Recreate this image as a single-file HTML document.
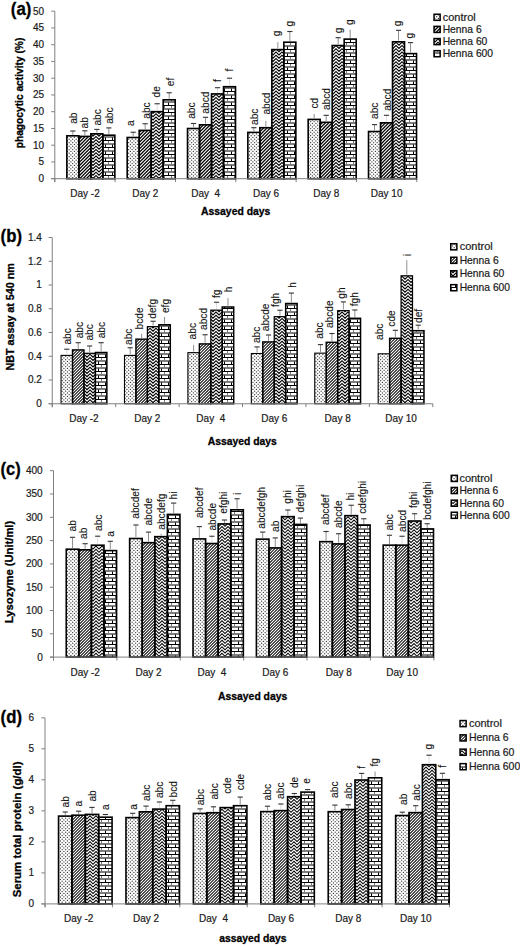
<!DOCTYPE html>
<html><head><meta charset="utf-8"><title>Henna immune assays</title>
<style>html,body{margin:0;padding:0;background:#fff;}svg{display:block;}text{font-family:"Liberation Sans", sans-serif;}.lb{fill:#111;stroke:#111;stroke-width:0.1px;}.tt{fill:#000;stroke:#000;stroke-width:0.3px;}.tk{fill:#1a1a1a;stroke:#1a1a1a;stroke-width:0.2px;}</style></head><body>
<svg width="520" height="947" viewBox="0 0 520 947">
<rect width="520" height="947" fill="#fff"/>
<defs>
<pattern id="pc" patternUnits="userSpaceOnUse" width="7" height="7"><rect width="7" height="7" fill="#fff"/><g fill="#333"><circle cx="0.90" cy="0.90" r="0.65"/><circle cx="4.40" cy="0.90" r="0.65"/><circle cx="2.65" cy="2.65" r="0.65"/><circle cx="6.15" cy="2.65" r="0.65"/><circle cx="0.90" cy="4.40" r="0.65"/><circle cx="4.40" cy="4.40" r="0.65"/><circle cx="2.65" cy="6.15" r="0.65"/><circle cx="6.15" cy="6.15" r="0.65"/></g></pattern>
<pattern id="p6a" patternUnits="userSpaceOnUse" width="10" height="10"><rect width="10" height="10" fill="#000"/><path d="M1.000,-1.000 L-1.000,1.000 M4.333,-1.000 L-1.000,4.333 M7.667,-1.000 L-1.000,7.667 M11.000,-1.000 L-1.000,11.000 M14.333,-1.000 L-1.000,14.333 M17.667,-1.000 L-1.000,17.667 M21.000,-1.000 L-1.000,21.000 " stroke="#fff" stroke-width="1.1" fill="none"/></pattern>
<pattern id="p6b" patternUnits="userSpaceOnUse" width="9" height="9"><rect width="9" height="9" fill="#000"/><path d="M1.000,-1.000 L-1.000,1.000 M4.000,-1.000 L-1.000,4.000 M7.000,-1.000 L-1.000,7.000 M10.000,-1.000 L-1.000,10.000 M13.000,-1.000 L-1.000,13.000 M16.000,-1.000 L-1.000,16.000 M19.000,-1.000 L-1.000,19.000 " stroke="#fff" stroke-width="1.2" fill="none"/></pattern>
<pattern id="p60a" patternUnits="userSpaceOnUse" width="6" height="13"><rect width="6" height="13" fill="#fff"/><path d="M-3,-3.50 L0,-6.50 L3,-3.50 L6,-6.50 L9,-3.50 M-3,-0.25 L0,-3.25 L3,-0.25 L6,-3.25 L9,-0.25 M-3,3.00 L0,0.00 L3,3.00 L6,0.00 L9,3.00 M-3,6.25 L0,3.25 L3,6.25 L6,3.25 L9,6.25 M-3,9.50 L0,6.50 L3,9.50 L6,6.50 L9,9.50 M-3,12.75 L0,9.75 L3,12.75 L6,9.75 L9,12.75 M-3,16.00 L0,13.00 L3,16.00 L6,13.00 L9,16.00 M-3,19.25 L0,16.25 L3,19.25 L6,16.25 L9,19.25 " stroke="#000" stroke-width="1.1" fill="none"/></pattern>
<pattern id="p60b" patternUnits="userSpaceOnUse" width="6" height="13"><rect width="6" height="13" fill="#fff"/><path d="M-3,-3.50 L0,-6.50 L3,-3.50 L6,-6.50 L9,-3.50 M-3,-0.25 L0,-3.25 L3,-0.25 L6,-3.25 L9,-0.25 M-3,3.00 L0,0.00 L3,3.00 L6,0.00 L9,3.00 M-3,6.25 L0,3.25 L3,6.25 L6,3.25 L9,6.25 M-3,9.50 L0,6.50 L3,9.50 L6,6.50 L9,9.50 M-3,12.75 L0,9.75 L3,12.75 L6,9.75 L9,12.75 M-3,16.00 L0,13.00 L3,16.00 L6,13.00 L9,16.00 M-3,19.25 L0,16.25 L3,19.25 L6,16.25 L9,19.25 " stroke="#000" stroke-width="1.15" fill="none"/></pattern>
<pattern id="p60c" patternUnits="userSpaceOnUse" width="6" height="13"><rect width="6" height="13" fill="#fff"/><path d="M-3,-3.50 L0,-6.50 L3,-3.50 L6,-6.50 L9,-3.50 M-3,-0.25 L0,-3.25 L3,-0.25 L6,-3.25 L9,-0.25 M-3,3.00 L0,0.00 L3,3.00 L6,0.00 L9,3.00 M-3,6.25 L0,3.25 L3,6.25 L6,3.25 L9,6.25 M-3,9.50 L0,6.50 L3,9.50 L6,6.50 L9,9.50 M-3,12.75 L0,9.75 L3,12.75 L6,9.75 L9,12.75 M-3,16.00 L0,13.00 L3,16.00 L6,13.00 L9,16.00 M-3,19.25 L0,16.25 L3,19.25 L6,16.25 L9,19.25 " stroke="#000" stroke-width="1.05" fill="none"/></pattern>
<pattern id="p600" patternUnits="userSpaceOnUse" width="7" height="7"><rect width="7" height="7" fill="#fff"/><rect x="0" y="0" width="7" height="1" fill="#000"/><rect x="0" y="3.5" width="7" height="1" fill="#000"/><rect x="3" y="1" width="1" height="2.5" fill="#777"/><rect x="0" y="4.5" width="1" height="2.5" fill="#000"/></pattern>
<filter id="soft" x="-5%" y="-5%" width="110%" height="110%"><feGaussianBlur stdDeviation="0.8"/></filter>
</defs>
<text x="10.8" y="15" font-size="17.5" font-weight="bold" class="tt" textLength="20.6" lengthAdjust="spacingAndGlyphs">(a)</text>
<line x1="51.2" y1="178.7" x2="54.8" y2="178.7" stroke="#808080" stroke-width="1"/>
<text x="44" y="182.1" font-size="10" class="tk" text-anchor="end">0</text>
<line x1="51.2" y1="161.95" x2="54.8" y2="161.95" stroke="#808080" stroke-width="1"/>
<text x="44" y="165.35" font-size="10" class="tk" text-anchor="end">5</text>
<line x1="51.2" y1="145.2" x2="54.8" y2="145.2" stroke="#808080" stroke-width="1"/>
<text x="44" y="148.6" font-size="10" class="tk" text-anchor="end">10</text>
<line x1="51.2" y1="128.45" x2="54.8" y2="128.45" stroke="#808080" stroke-width="1"/>
<text x="44" y="131.85" font-size="10" class="tk" text-anchor="end">15</text>
<line x1="51.2" y1="111.7" x2="54.8" y2="111.7" stroke="#808080" stroke-width="1"/>
<text x="44" y="115.1" font-size="10" class="tk" text-anchor="end">20</text>
<line x1="51.2" y1="94.95" x2="54.8" y2="94.95" stroke="#808080" stroke-width="1"/>
<text x="44" y="98.35" font-size="10" class="tk" text-anchor="end">25</text>
<line x1="51.2" y1="78.2" x2="54.8" y2="78.2" stroke="#808080" stroke-width="1"/>
<text x="44" y="81.6" font-size="10" class="tk" text-anchor="end">30</text>
<line x1="51.2" y1="61.45" x2="54.8" y2="61.45" stroke="#808080" stroke-width="1"/>
<text x="44" y="64.85" font-size="10" class="tk" text-anchor="end">35</text>
<line x1="51.2" y1="44.7" x2="54.8" y2="44.7" stroke="#808080" stroke-width="1"/>
<text x="44" y="48.1" font-size="10" class="tk" text-anchor="end">40</text>
<line x1="51.2" y1="27.95" x2="54.8" y2="27.95" stroke="#808080" stroke-width="1"/>
<text x="44" y="31.35" font-size="10" class="tk" text-anchor="end">45</text>
<line x1="51.2" y1="11.2" x2="54.8" y2="11.2" stroke="#808080" stroke-width="1"/>
<text x="44" y="14.6" font-size="10" class="tk" text-anchor="end">50</text>
<line x1="54.8" y1="178.7" x2="54.8" y2="182.1" stroke="#808080" stroke-width="1"/>
<line x1="115.13" y1="178.7" x2="115.13" y2="182.1" stroke="#808080" stroke-width="1"/>
<line x1="175.47" y1="178.7" x2="175.47" y2="182.1" stroke="#808080" stroke-width="1"/>
<line x1="235.8" y1="178.7" x2="235.8" y2="182.1" stroke="#808080" stroke-width="1"/>
<line x1="296.13" y1="178.7" x2="296.13" y2="182.1" stroke="#808080" stroke-width="1"/>
<line x1="356.47" y1="178.7" x2="356.47" y2="182.1" stroke="#808080" stroke-width="1"/>
<line x1="416.8" y1="178.7" x2="416.8" y2="182.1" stroke="#808080" stroke-width="1"/>
<g>
<rect x="66.85" y="135.8" width="12" height="42.9" fill="url(#pc)"/>
<rect x="78.85" y="136.4" width="12" height="42.3" fill="url(#p6a)"/>
<rect x="90.85" y="133.8" width="12" height="44.9" fill="url(#p60a)"/>
<rect x="102.85" y="135.2" width="12" height="43.5" fill="url(#p600)"/>
</g>
<rect x="66.85" y="135.8" width="12" height="42.9" fill="none" stroke="#000" stroke-width="1.6"/>
<rect x="78.85" y="136.4" width="12" height="42.3" fill="none" stroke="#000" stroke-width="1.6"/>
<rect x="90.85" y="133.8" width="12" height="44.9" fill="none" stroke="#000" stroke-width="1.6"/>
<rect x="102.85" y="135.2" width="12" height="43.5" fill="none" stroke="#000" stroke-width="1.6"/>
<line x1="72.85" y1="134.7" x2="72.85" y2="131" stroke="#8f8f8f" stroke-width="1"/>
<line x1="70.25" y1="131" x2="75.45" y2="131" stroke="#333" stroke-width="1.1"/>
<text transform="translate(77.22,123.8) rotate(-90)" font-size="10.2" class="lb">ab</text>
<line x1="84.85" y1="135.3" x2="84.85" y2="130.8" stroke="#8f8f8f" stroke-width="1"/>
<line x1="82.25" y1="130.8" x2="87.45" y2="130.8" stroke="#333" stroke-width="1.1"/>
<text transform="translate(88.42,128.5) rotate(-90)" font-size="10.2" class="lb">ab</text>
<line x1="96.85" y1="132.7" x2="96.85" y2="129.4" stroke="#8f8f8f" stroke-width="1"/>
<line x1="94.25" y1="129.4" x2="99.45" y2="129.4" stroke="#333" stroke-width="1.1"/>
<text transform="translate(101.12,125.6) rotate(-90)" font-size="10.2" class="lb">abc</text>
<line x1="108.85" y1="134.1" x2="108.85" y2="127.9" stroke="#8f8f8f" stroke-width="1"/>
<line x1="106.25" y1="127.9" x2="111.45" y2="127.9" stroke="#333" stroke-width="1.1"/>
<text transform="translate(113.22,123.8) rotate(-90)" font-size="10.2" class="lb">abc</text>
<g>
<rect x="127.18" y="137.5" width="12" height="41.2" fill="url(#pc)"/>
<rect x="139.18" y="130.4" width="12" height="48.3" fill="url(#p6a)"/>
<rect x="151.18" y="111.65" width="12" height="67.05" fill="url(#p60a)"/>
<rect x="163.18" y="99.8" width="12" height="78.9" fill="url(#p600)"/>
</g>
<rect x="127.18" y="137.5" width="12" height="41.2" fill="none" stroke="#000" stroke-width="1.6"/>
<rect x="139.18" y="130.4" width="12" height="48.3" fill="none" stroke="#000" stroke-width="1.6"/>
<rect x="151.18" y="111.65" width="12" height="67.05" fill="none" stroke="#000" stroke-width="1.6"/>
<rect x="163.18" y="99.8" width="12" height="78.9" fill="none" stroke="#000" stroke-width="1.6"/>
<line x1="133.18" y1="136.4" x2="133.18" y2="132.25" stroke="#8f8f8f" stroke-width="1"/>
<line x1="130.58" y1="132.25" x2="135.78" y2="132.25" stroke="#333" stroke-width="1.1"/>
<text transform="translate(133.95,126) rotate(-90)" font-size="10.2" class="lb">a</text>
<line x1="145.18" y1="129.3" x2="145.18" y2="123.75" stroke="#8f8f8f" stroke-width="1"/>
<line x1="142.58" y1="123.75" x2="147.78" y2="123.75" stroke="#333" stroke-width="1.1"/>
<text transform="translate(149.62,118.75) rotate(-90)" font-size="10.2" class="lb">abc</text>
<line x1="157.18" y1="110.55" x2="157.18" y2="103.75" stroke="#dcdcdc" stroke-width="1"/>
<line x1="154.58" y1="103.75" x2="159.78" y2="103.75" stroke="#333" stroke-width="1.1"/>
<text transform="translate(159.87,97.5) rotate(-90)" font-size="10.2" class="lb">de</text>
<line x1="169.18" y1="98.7" x2="169.18" y2="92.75" stroke="#8f8f8f" stroke-width="1"/>
<line x1="166.58" y1="92.75" x2="171.78" y2="92.75" stroke="#333" stroke-width="1.1"/>
<text transform="translate(173.62,86.25) rotate(-90)" font-size="10.2" class="lb">ef</text>
<g>
<rect x="187.52" y="128.5" width="12" height="50.2" fill="url(#pc)"/>
<rect x="199.52" y="124.8" width="12" height="53.9" fill="url(#p6a)"/>
<rect x="211.52" y="93.9" width="12" height="84.8" fill="url(#p60a)"/>
<rect x="223.52" y="86.7" width="12" height="92" fill="url(#p600)"/>
</g>
<rect x="187.52" y="128.5" width="12" height="50.2" fill="none" stroke="#000" stroke-width="1.6"/>
<rect x="199.52" y="124.8" width="12" height="53.9" fill="none" stroke="#000" stroke-width="1.6"/>
<rect x="211.52" y="93.9" width="12" height="84.8" fill="none" stroke="#000" stroke-width="1.6"/>
<rect x="223.52" y="86.7" width="12" height="92" fill="none" stroke="#000" stroke-width="1.6"/>
<line x1="193.52" y1="127.4" x2="193.52" y2="123.5" stroke="#8f8f8f" stroke-width="1"/>
<line x1="190.92" y1="123.5" x2="196.12" y2="123.5" stroke="#333" stroke-width="1.1"/>
<text transform="translate(195.12,118.8) rotate(-90)" font-size="10.2" class="lb">abc</text>
<line x1="205.52" y1="123.7" x2="205.52" y2="117.3" stroke="#8f8f8f" stroke-width="1"/>
<line x1="202.92" y1="117.3" x2="208.12" y2="117.3" stroke="#333" stroke-width="1.1"/>
<text transform="translate(208.82,113.7) rotate(-90)" font-size="10.2" class="lb">abcd</text>
<line x1="217.52" y1="92.8" x2="217.52" y2="87.7" stroke="#dcdcdc" stroke-width="1"/>
<line x1="214.92" y1="87.7" x2="220.12" y2="87.7" stroke="#333" stroke-width="1.1"/>
<text transform="translate(221.17,81.9) rotate(-90)" font-size="10.2" class="lb">f</text>
<line x1="229.52" y1="85.6" x2="229.52" y2="78.2" stroke="#dcdcdc" stroke-width="1"/>
<line x1="226.92" y1="78.2" x2="232.12" y2="78.2" stroke="#333" stroke-width="1.1"/>
<text transform="translate(233.17,71.5) rotate(-90)" font-size="10.2" class="lb">f</text>
<g>
<rect x="247.85" y="132.4" width="12" height="46.3" fill="url(#pc)"/>
<rect x="259.85" y="127.7" width="12" height="51" fill="url(#p6a)"/>
<rect x="271.85" y="49.6" width="12" height="129.1" fill="url(#p60a)"/>
<rect x="283.85" y="42.2" width="12" height="136.5" fill="url(#p600)"/>
</g>
<rect x="247.85" y="132.4" width="12" height="46.3" fill="none" stroke="#000" stroke-width="1.6"/>
<rect x="259.85" y="127.7" width="12" height="51" fill="none" stroke="#000" stroke-width="1.6"/>
<rect x="271.85" y="49.6" width="12" height="129.1" fill="none" stroke="#000" stroke-width="1.6"/>
<rect x="283.85" y="42.2" width="12" height="136.5" fill="none" stroke="#000" stroke-width="1.6"/>
<line x1="253.85" y1="131.3" x2="253.85" y2="127.7" stroke="#8f8f8f" stroke-width="1"/>
<line x1="251.25" y1="127.7" x2="256.45" y2="127.7" stroke="#333" stroke-width="1.1"/>
<text transform="translate(257.82,125) rotate(-90)" font-size="10.2" class="lb">abc</text>
<line x1="265.85" y1="126.6" x2="265.85" y2="120.8" stroke="#8f8f8f" stroke-width="1"/>
<text transform="translate(269.82,114.6) rotate(-90)" font-size="10.2" class="lb">abcd</text>
<line x1="277.85" y1="48.5" x2="277.85" y2="42.1" stroke="#8f8f8f" stroke-width="1"/>
<text transform="translate(280.38,36.2) rotate(-90)" font-size="10.2" class="lb">g</text>
<line x1="289.85" y1="41.1" x2="289.85" y2="31.5" stroke="#8f8f8f" stroke-width="1"/>
<line x1="287.25" y1="31.5" x2="292.45" y2="31.5" stroke="#333" stroke-width="1.1"/>
<text transform="translate(293.38,26.6) rotate(-90)" font-size="10.2" class="lb">g</text>
<g>
<rect x="308.18" y="119.4" width="12" height="59.3" fill="url(#pc)"/>
<rect x="320.18" y="122.3" width="12" height="56.4" fill="url(#p6a)"/>
<rect x="332.18" y="45.5" width="12" height="133.2" fill="url(#p60a)"/>
<rect x="344.18" y="39.1" width="12" height="139.6" fill="url(#p600)"/>
</g>
<rect x="308.18" y="119.4" width="12" height="59.3" fill="none" stroke="#000" stroke-width="1.6"/>
<rect x="320.18" y="122.3" width="12" height="56.4" fill="none" stroke="#000" stroke-width="1.6"/>
<rect x="332.18" y="45.5" width="12" height="133.2" fill="none" stroke="#000" stroke-width="1.6"/>
<rect x="344.18" y="39.1" width="12" height="139.6" fill="none" stroke="#000" stroke-width="1.6"/>
<line x1="314.18" y1="118.3" x2="314.18" y2="113.8" stroke="#8f8f8f" stroke-width="1"/>
<text transform="translate(318.42,108.6) rotate(-90)" font-size="10.2" class="lb">cd</text>
<line x1="326.18" y1="121.2" x2="326.18" y2="115.3" stroke="#8f8f8f" stroke-width="1"/>
<line x1="323.58" y1="115.3" x2="328.78" y2="115.3" stroke="#333" stroke-width="1.1"/>
<text transform="translate(329.92,110.1) rotate(-90)" font-size="10.2" class="lb">abcd</text>
<line x1="338.18" y1="44.4" x2="338.18" y2="37.7" stroke="#8f8f8f" stroke-width="1"/>
<line x1="335.58" y1="37.7" x2="340.78" y2="37.7" stroke="#333" stroke-width="1.1"/>
<text transform="translate(341.58,33.2) rotate(-90)" font-size="10.2" class="lb">g</text>
<line x1="350.18" y1="38" x2="350.18" y2="29.6" stroke="#8f8f8f" stroke-width="1"/>
<text transform="translate(352.68,25.1) rotate(-90)" font-size="10.2" class="lb">g</text>
<g>
<rect x="368.52" y="131.5" width="12" height="47.2" fill="url(#pc)"/>
<rect x="380.52" y="122.8" width="12" height="55.9" fill="url(#p6a)"/>
<rect x="392.52" y="41.8" width="12" height="136.9" fill="url(#p60a)"/>
<rect x="404.52" y="53.6" width="12" height="125.1" fill="url(#p600)"/>
</g>
<rect x="368.52" y="131.5" width="12" height="47.2" fill="none" stroke="#000" stroke-width="1.6"/>
<rect x="380.52" y="122.8" width="12" height="55.9" fill="none" stroke="#000" stroke-width="1.6"/>
<rect x="392.52" y="41.8" width="12" height="136.9" fill="none" stroke="#000" stroke-width="1.6"/>
<rect x="404.52" y="53.6" width="12" height="125.1" fill="none" stroke="#000" stroke-width="1.6"/>
<line x1="374.52" y1="130.4" x2="374.52" y2="124.6" stroke="#8f8f8f" stroke-width="1"/>
<line x1="371.92" y1="124.6" x2="377.12" y2="124.6" stroke="#333" stroke-width="1.1"/>
<text transform="translate(377.62,119) rotate(-90)" font-size="10.2" class="lb">abc</text>
<line x1="386.52" y1="121.7" x2="386.52" y2="115.3" stroke="#dcdcdc" stroke-width="1"/>
<line x1="383.92" y1="115.3" x2="389.12" y2="115.3" stroke="#333" stroke-width="1.1"/>
<text transform="translate(390.92,110.8) rotate(-90)" font-size="10.2" class="lb">abcd</text>
<line x1="398.52" y1="40.7" x2="398.52" y2="30.3" stroke="#8f8f8f" stroke-width="1"/>
<line x1="395.92" y1="30.3" x2="401.12" y2="30.3" stroke="#333" stroke-width="1.1"/>
<text transform="translate(401.28,26.3) rotate(-90)" font-size="10.2" class="lb">g</text>
<line x1="410.52" y1="52.5" x2="410.52" y2="42.6" stroke="#8f8f8f" stroke-width="1"/>
<line x1="407.92" y1="42.6" x2="413.12" y2="42.6" stroke="#333" stroke-width="1.1"/>
<text transform="translate(413.38,38.4) rotate(-90)" font-size="10.2" class="lb">g</text>
<line x1="54.8" y1="11.2" x2="54.8" y2="182.1" stroke="#808080" stroke-width="1"/>
<line x1="51.2" y1="178.7" x2="416.8" y2="178.7" stroke="#808080" stroke-width="1"/>
<text x="84.97" y="196.7" font-size="10" class="tk" text-anchor="middle" xml:space="preserve">Day -2</text>
<text x="145.3" y="196.7" font-size="10" class="tk" text-anchor="middle" xml:space="preserve">Day 2</text>
<text x="205.63" y="196.7" font-size="10" class="tk" text-anchor="middle" xml:space="preserve">Day  4</text>
<text x="265.97" y="196.7" font-size="10" class="tk" text-anchor="middle" xml:space="preserve">Day 6</text>
<text x="326.3" y="196.7" font-size="10" class="tk" text-anchor="middle" xml:space="preserve">Day 8</text>
<text x="386.63" y="196.7" font-size="10" class="tk" text-anchor="middle" xml:space="preserve">Day 10</text>
<text x="201" y="214.6" font-size="11" font-weight="bold" class="tt" textLength="69.4" lengthAdjust="spacingAndGlyphs">Assayed days</text>
<text transform="translate(22.6,148.3) rotate(-90)" font-size="11.5" font-weight="bold" class="tt" textLength="110.6" lengthAdjust="spacingAndGlyphs">phagocytic activity (%)</text>
<rect x="434.05" y="14.25" width="6.1" height="6.1" fill="url(#pc)" stroke="#000" stroke-width="1.5"/>
<text x="442.7" y="20.8" font-size="10.3" class="tk" textLength="33" lengthAdjust="spacingAndGlyphs">control</text>
<rect x="434.05" y="26.35" width="6.1" height="6.1" fill="url(#p6a)" stroke="#000" stroke-width="1.5"/>
<text x="442.7" y="32.9" font-size="10.3" class="tk">Henna 6</text>
<rect x="434.05" y="38.55" width="6.1" height="6.1" fill="url(#p60a)" stroke="#000" stroke-width="1.5"/>
<text x="442.7" y="45.1" font-size="10.3" class="tk">Henna 60</text>
<rect x="434.05" y="50.65" width="6.1" height="6.1" fill="url(#p600)" stroke="#000" stroke-width="1.5"/>
<text x="442.7" y="57.2" font-size="10.3" class="tk">Henna 600</text>
<text x="0.6" y="242.3" font-size="17.5" font-weight="bold" class="tt" textLength="21.4" lengthAdjust="spacingAndGlyphs">(b)</text>
<line x1="48.65" y1="403.75" x2="52.25" y2="403.75" stroke="#808080" stroke-width="1"/>
<text x="41.9" y="407.15" font-size="10" class="tk" text-anchor="end">0</text>
<line x1="48.65" y1="380" x2="52.25" y2="380" stroke="#808080" stroke-width="1"/>
<text x="41.9" y="383.4" font-size="10" class="tk" text-anchor="end">0.2</text>
<line x1="48.65" y1="356.25" x2="52.25" y2="356.25" stroke="#808080" stroke-width="1"/>
<text x="41.9" y="359.65" font-size="10" class="tk" text-anchor="end">0.4</text>
<line x1="48.65" y1="332.5" x2="52.25" y2="332.5" stroke="#808080" stroke-width="1"/>
<text x="41.9" y="335.9" font-size="10" class="tk" text-anchor="end">0.6</text>
<line x1="48.65" y1="308.75" x2="52.25" y2="308.75" stroke="#808080" stroke-width="1"/>
<text x="41.9" y="312.15" font-size="10" class="tk" text-anchor="end">0.8</text>
<line x1="48.65" y1="285" x2="52.25" y2="285" stroke="#808080" stroke-width="1"/>
<text x="41.9" y="288.4" font-size="10" class="tk" text-anchor="end">1</text>
<line x1="48.65" y1="261.25" x2="52.25" y2="261.25" stroke="#808080" stroke-width="1"/>
<text x="41.9" y="264.65" font-size="10" class="tk" text-anchor="end">1.2</text>
<line x1="48.65" y1="237.5" x2="52.25" y2="237.5" stroke="#808080" stroke-width="1"/>
<text x="41.9" y="240.9" font-size="10" class="tk" text-anchor="end">1.4</text>
<line x1="52.25" y1="403.75" x2="52.25" y2="407.15" stroke="#808080" stroke-width="1"/>
<line x1="115.68" y1="403.75" x2="115.68" y2="407.15" stroke="#808080" stroke-width="1"/>
<line x1="179.1" y1="403.75" x2="179.1" y2="407.15" stroke="#808080" stroke-width="1"/>
<line x1="242.53" y1="403.75" x2="242.53" y2="407.15" stroke="#808080" stroke-width="1"/>
<line x1="305.95" y1="403.75" x2="305.95" y2="407.15" stroke="#808080" stroke-width="1"/>
<line x1="369.38" y1="403.75" x2="369.38" y2="407.15" stroke="#808080" stroke-width="1"/>
<line x1="432.8" y1="403.75" x2="432.8" y2="407.15" stroke="#808080" stroke-width="1"/>
<g>
<rect x="61.05" y="355.4" width="11.45" height="48.35" fill="url(#pc)"/>
<rect x="72.5" y="349.9" width="11.45" height="53.85" fill="url(#p6b)"/>
<rect x="83.95" y="353.3" width="11.45" height="50.45" fill="url(#p60b)"/>
<rect x="95.4" y="352.5" width="11.45" height="51.25" fill="url(#p600)"/>
</g>
<rect x="61.05" y="355.4" width="11.45" height="48.35" fill="none" stroke="#000" stroke-width="1.1"/>
<rect x="72.5" y="349.9" width="11.45" height="53.85" fill="none" stroke="#000" stroke-width="1.4"/>
<rect x="83.95" y="353.3" width="11.45" height="50.45" fill="none" stroke="#000" stroke-width="1.2"/>
<rect x="95.4" y="352.5" width="11.45" height="51.25" fill="none" stroke="#000" stroke-width="1.5"/>
<line x1="66.78" y1="354.3" x2="66.78" y2="349.2" stroke="#dcdcdc" stroke-width="1"/>
<line x1="64.18" y1="349.2" x2="69.38" y2="349.2" stroke="#333" stroke-width="1.1"/>
<text transform="translate(71.12,344.6) rotate(-90)" font-size="10.2" class="lb">abc</text>
<line x1="78.22" y1="348.8" x2="78.22" y2="342.7" stroke="#8f8f8f" stroke-width="1"/>
<line x1="75.62" y1="342.7" x2="80.82" y2="342.7" stroke="#333" stroke-width="1.1"/>
<text transform="translate(83.42,338.3) rotate(-90)" font-size="10.2" class="lb">abc</text>
<line x1="89.67" y1="352.2" x2="89.67" y2="346" stroke="#8f8f8f" stroke-width="1"/>
<line x1="87.08" y1="346" x2="92.27" y2="346" stroke="#333" stroke-width="1.1"/>
<text transform="translate(93.22,340.6) rotate(-90)" font-size="10.2" class="lb">abc</text>
<line x1="101.12" y1="351.4" x2="101.12" y2="342.7" stroke="#8f8f8f" stroke-width="1"/>
<line x1="98.53" y1="342.7" x2="103.72" y2="342.7" stroke="#333" stroke-width="1.1"/>
<text transform="translate(104.82,338.3) rotate(-90)" font-size="10.2" class="lb">abc</text>
<g>
<rect x="124.48" y="355.4" width="11.45" height="48.35" fill="url(#pc)"/>
<rect x="135.93" y="339.15" width="11.45" height="64.6" fill="url(#p6b)"/>
<rect x="147.38" y="326.65" width="11.45" height="77.1" fill="url(#p60b)"/>
<rect x="158.83" y="324.8" width="11.45" height="78.95" fill="url(#p600)"/>
</g>
<rect x="124.48" y="355.4" width="11.45" height="48.35" fill="none" stroke="#000" stroke-width="1.1"/>
<rect x="135.93" y="339.15" width="11.45" height="64.6" fill="none" stroke="#000" stroke-width="1.4"/>
<rect x="147.38" y="326.65" width="11.45" height="77.1" fill="none" stroke="#000" stroke-width="1.2"/>
<rect x="158.83" y="324.8" width="11.45" height="78.95" fill="none" stroke="#000" stroke-width="1.5"/>
<line x1="130.2" y1="354.3" x2="130.2" y2="347.75" stroke="#8f8f8f" stroke-width="1"/>
<line x1="127.6" y1="347.75" x2="132.8" y2="347.75" stroke="#333" stroke-width="1.1"/>
<text transform="translate(132.37,345) rotate(-90)" font-size="10.2" class="lb">abc</text>
<line x1="141.65" y1="338.05" x2="141.65" y2="333.75" stroke="#8f8f8f" stroke-width="1"/>
<text transform="translate(143.02,329.4) rotate(-90)" font-size="10.2" class="lb">bcde</text>
<line x1="153.1" y1="325.55" x2="153.1" y2="321.25" stroke="#8f8f8f" stroke-width="1"/>
<line x1="150.5" y1="321.25" x2="155.7" y2="321.25" stroke="#333" stroke-width="1.1"/>
<text transform="translate(155.7,318.75) rotate(-90)" font-size="10.2" class="lb">defg</text>
<line x1="164.55" y1="323.7" x2="164.55" y2="316.9" stroke="#8f8f8f" stroke-width="1"/>
<text transform="translate(168.85,313.1) rotate(-90)" font-size="10.2" class="lb">efg</text>
<g>
<rect x="187.9" y="352.65" width="11.45" height="51.1" fill="url(#pc)"/>
<rect x="199.35" y="343.9" width="11.45" height="59.85" fill="url(#p6b)"/>
<rect x="210.8" y="310.15" width="11.45" height="93.6" fill="url(#p60b)"/>
<rect x="222.25" y="307" width="11.45" height="96.75" fill="url(#p600)"/>
</g>
<rect x="187.9" y="352.65" width="11.45" height="51.1" fill="none" stroke="#000" stroke-width="1.1"/>
<rect x="199.35" y="343.9" width="11.45" height="59.85" fill="none" stroke="#000" stroke-width="1.4"/>
<rect x="210.8" y="310.15" width="11.45" height="93.6" fill="none" stroke="#000" stroke-width="1.2"/>
<rect x="222.25" y="307" width="11.45" height="96.75" fill="none" stroke="#000" stroke-width="1.5"/>
<line x1="193.62" y1="351.55" x2="193.62" y2="345" stroke="#8f8f8f" stroke-width="1"/>
<text transform="translate(196.12,339.4) rotate(-90)" font-size="10.2" class="lb">abc</text>
<line x1="205.07" y1="342.8" x2="205.07" y2="334.75" stroke="#8f8f8f" stroke-width="1"/>
<line x1="202.47" y1="334.75" x2="207.67" y2="334.75" stroke="#333" stroke-width="1.1"/>
<text transform="translate(207.37,330) rotate(-90)" font-size="10.2" class="lb">abcd</text>
<line x1="216.53" y1="309.05" x2="216.53" y2="302.25" stroke="#dcdcdc" stroke-width="1"/>
<line x1="213.93" y1="302.25" x2="219.12" y2="302.25" stroke="#333" stroke-width="1.1"/>
<text transform="translate(220.1,298.1) rotate(-90)" font-size="10.2" class="lb">fg</text>
<line x1="227.97" y1="305.9" x2="227.97" y2="298.1" stroke="#8f8f8f" stroke-width="1"/>
<text transform="translate(232.42,292.25) rotate(-90)" font-size="10.2" class="lb">h</text>
<g>
<rect x="251.32" y="353.5" width="11.45" height="50.25" fill="url(#pc)"/>
<rect x="262.77" y="341.9" width="11.45" height="61.85" fill="url(#p6b)"/>
<rect x="274.22" y="316.65" width="11.45" height="87.1" fill="url(#p60b)"/>
<rect x="285.68" y="303.5" width="11.45" height="100.25" fill="url(#p600)"/>
</g>
<rect x="251.32" y="353.5" width="11.45" height="50.25" fill="none" stroke="#000" stroke-width="1.1"/>
<rect x="262.77" y="341.9" width="11.45" height="61.85" fill="none" stroke="#000" stroke-width="1.4"/>
<rect x="274.22" y="316.65" width="11.45" height="87.1" fill="none" stroke="#000" stroke-width="1.2"/>
<rect x="285.68" y="303.5" width="11.45" height="100.25" fill="none" stroke="#000" stroke-width="1.5"/>
<line x1="257.05" y1="352.4" x2="257.05" y2="346.9" stroke="#8f8f8f" stroke-width="1"/>
<line x1="254.45" y1="346.9" x2="259.65" y2="346.9" stroke="#333" stroke-width="1.1"/>
<text transform="translate(259.87,343.1) rotate(-90)" font-size="10.2" class="lb">abc</text>
<line x1="268.5" y1="340.8" x2="268.5" y2="335" stroke="#8f8f8f" stroke-width="1"/>
<line x1="265.9" y1="335" x2="271.1" y2="335" stroke="#333" stroke-width="1.1"/>
<text transform="translate(269.22,331.25) rotate(-90)" font-size="10.2" class="lb">abcde</text>
<line x1="279.95" y1="315.55" x2="279.95" y2="310.25" stroke="#8f8f8f" stroke-width="1"/>
<line x1="277.35" y1="310.25" x2="282.55" y2="310.25" stroke="#333" stroke-width="1.1"/>
<text transform="translate(278.6,306.9) rotate(-90)" font-size="10.2" class="lb">fgh</text>
<line x1="291.4" y1="302.4" x2="291.4" y2="293.1" stroke="#8f8f8f" stroke-width="1"/>
<line x1="288.8" y1="293.1" x2="294" y2="293.1" stroke="#333" stroke-width="1.1"/>
<text transform="translate(296.17,287.75) rotate(-90)" font-size="10.2" class="lb">h</text>
<g>
<rect x="314.75" y="353.15" width="11.45" height="50.6" fill="url(#pc)"/>
<rect x="326.2" y="342.3" width="11.45" height="61.45" fill="url(#p6b)"/>
<rect x="337.65" y="310.65" width="11.45" height="93.1" fill="url(#p60b)"/>
<rect x="349.1" y="318.3" width="11.45" height="85.45" fill="url(#p600)"/>
</g>
<rect x="314.75" y="353.15" width="11.45" height="50.6" fill="none" stroke="#000" stroke-width="1.1"/>
<rect x="326.2" y="342.3" width="11.45" height="61.45" fill="none" stroke="#000" stroke-width="1.4"/>
<rect x="337.65" y="310.65" width="11.45" height="93.1" fill="none" stroke="#000" stroke-width="1.2"/>
<rect x="349.1" y="318.3" width="11.45" height="85.45" fill="none" stroke="#000" stroke-width="1.5"/>
<line x1="320.48" y1="352.05" x2="320.48" y2="344.6" stroke="#8f8f8f" stroke-width="1"/>
<line x1="317.88" y1="344.6" x2="323.08" y2="344.6" stroke="#333" stroke-width="1.1"/>
<text transform="translate(323.02,338.75) rotate(-90)" font-size="10.2" class="lb">abc</text>
<line x1="331.93" y1="341.2" x2="331.93" y2="333.5" stroke="#8f8f8f" stroke-width="1"/>
<line x1="329.33" y1="333.5" x2="334.53" y2="333.5" stroke="#333" stroke-width="1.1"/>
<text transform="translate(333.37,328.1) rotate(-90)" font-size="10.2" class="lb">abcde</text>
<line x1="343.38" y1="309.55" x2="343.38" y2="301.9" stroke="#8f8f8f" stroke-width="1"/>
<line x1="340.78" y1="301.9" x2="345.98" y2="301.9" stroke="#333" stroke-width="1.1"/>
<text transform="translate(344.5,298.75) rotate(-90)" font-size="10.2" class="lb">gh</text>
<line x1="354.83" y1="317.2" x2="354.83" y2="310" stroke="#8f8f8f" stroke-width="1"/>
<line x1="352.23" y1="310" x2="357.43" y2="310" stroke="#333" stroke-width="1.1"/>
<text transform="translate(358.2,306.25) rotate(-90)" font-size="10.2" class="lb">fgh</text>
<g>
<rect x="378.18" y="353.8" width="11.45" height="49.95" fill="url(#pc)"/>
<rect x="389.62" y="338.3" width="11.45" height="65.45" fill="url(#p6b)"/>
<rect x="401.07" y="275.8" width="11.45" height="127.95" fill="url(#p60b)"/>
<rect x="412.53" y="330.7" width="11.45" height="73.05" fill="url(#p600)"/>
</g>
<rect x="378.18" y="353.8" width="11.45" height="49.95" fill="none" stroke="#000" stroke-width="1.1"/>
<rect x="389.62" y="338.3" width="11.45" height="65.45" fill="none" stroke="#000" stroke-width="1.4"/>
<rect x="401.07" y="275.8" width="11.45" height="127.95" fill="none" stroke="#000" stroke-width="1.2"/>
<rect x="412.53" y="330.7" width="11.45" height="73.05" fill="none" stroke="#000" stroke-width="1.5"/>
<text transform="translate(383.12,340) rotate(-90)" font-size="10.2" class="lb">abc</text>
<line x1="395.35" y1="337.2" x2="395.35" y2="330.3" stroke="#8f8f8f" stroke-width="1"/>
<line x1="392.75" y1="330.3" x2="397.95" y2="330.3" stroke="#333" stroke-width="1.1"/>
<text transform="translate(395.12,326.7) rotate(-90)" font-size="10.2" class="lb">cde</text>
<line x1="406.8" y1="274.7" x2="406.8" y2="260.2" stroke="#8f8f8f" stroke-width="1"/>
<text transform="translate(410.67,256.3) rotate(-90)" font-size="10.2" class="lb">i</text>
<line x1="418.25" y1="329.6" x2="418.25" y2="325.2" stroke="#8f8f8f" stroke-width="1"/>
<line x1="415.65" y1="325.2" x2="420.85" y2="325.2" stroke="#333" stroke-width="1.1"/>
<text transform="translate(422.42,323) rotate(-90)" font-size="10.2" class="lb">def</text>
<line x1="52.25" y1="237.5" x2="52.25" y2="407.15" stroke="#808080" stroke-width="1"/>
<line x1="48.65" y1="403.75" x2="432.8" y2="403.75" stroke="#808080" stroke-width="1"/>
<text x="83.96" y="421.7" font-size="10" class="tk" text-anchor="middle" xml:space="preserve">Day -2</text>
<text x="147.39" y="421.7" font-size="10" class="tk" text-anchor="middle" xml:space="preserve">Day 2</text>
<text x="210.81" y="421.7" font-size="10" class="tk" text-anchor="middle" xml:space="preserve">Day  4</text>
<text x="274.24" y="421.7" font-size="10" class="tk" text-anchor="middle" xml:space="preserve">Day 6</text>
<text x="337.66" y="421.7" font-size="10" class="tk" text-anchor="middle" xml:space="preserve">Day 8</text>
<text x="401.09" y="421.7" font-size="10" class="tk" text-anchor="middle" xml:space="preserve">Day 10</text>
<text x="207.7" y="444.5" font-size="11" font-weight="bold" class="tt" textLength="69.2" lengthAdjust="spacingAndGlyphs">Assayed days</text>
<text transform="translate(14.1,370.4) rotate(-90)" font-size="11.5" font-weight="bold" class="tt" textLength="107.2" lengthAdjust="spacingAndGlyphs">NBT assay at 540 nm</text>
<rect x="450.75" y="243.75" width="6.1" height="6.1" fill="url(#pc)" stroke="#000" stroke-width="1.5"/>
<text x="459.7" y="250.3" font-size="10.3" class="tk" textLength="33" lengthAdjust="spacingAndGlyphs">control</text>
<rect x="450.75" y="257.25" width="6.1" height="6.1" fill="url(#p6b)" stroke="#000" stroke-width="1.5"/>
<text x="459.7" y="263.8" font-size="10.3" class="tk">Henna 6</text>
<rect x="450.75" y="270.75" width="6.1" height="6.1" fill="url(#p60b)" stroke="#000" stroke-width="1.5"/>
<text x="459.7" y="277.3" font-size="10.3" class="tk">Henna 60</text>
<rect x="450.75" y="284.65" width="6.1" height="6.1" fill="url(#p600)" stroke="#000" stroke-width="1.5"/>
<text x="459.7" y="291.2" font-size="10.3" class="tk">Henna 600</text>
<text x="0.6" y="475.4" font-size="17.5" font-weight="bold" class="tt" textLength="20.2" lengthAdjust="spacingAndGlyphs">(c)</text>
<line x1="49.9" y1="657.1" x2="53.5" y2="657.1" stroke="#808080" stroke-width="1"/>
<text x="42.7" y="660.5" font-size="10" class="tk" text-anchor="end">0</text>
<line x1="49.9" y1="633.8" x2="53.5" y2="633.8" stroke="#808080" stroke-width="1"/>
<text x="42.7" y="637.2" font-size="10" class="tk" text-anchor="end">50</text>
<line x1="49.9" y1="610.5" x2="53.5" y2="610.5" stroke="#808080" stroke-width="1"/>
<text x="42.7" y="613.9" font-size="10" class="tk" text-anchor="end">100</text>
<line x1="49.9" y1="587.2" x2="53.5" y2="587.2" stroke="#808080" stroke-width="1"/>
<text x="42.7" y="590.6" font-size="10" class="tk" text-anchor="end">150</text>
<line x1="49.9" y1="563.9" x2="53.5" y2="563.9" stroke="#808080" stroke-width="1"/>
<text x="42.7" y="567.3" font-size="10" class="tk" text-anchor="end">200</text>
<line x1="49.9" y1="540.6" x2="53.5" y2="540.6" stroke="#808080" stroke-width="1"/>
<text x="42.7" y="544" font-size="10" class="tk" text-anchor="end">250</text>
<line x1="49.9" y1="517.3" x2="53.5" y2="517.3" stroke="#808080" stroke-width="1"/>
<text x="42.7" y="520.7" font-size="10" class="tk" text-anchor="end">300</text>
<line x1="49.9" y1="494" x2="53.5" y2="494" stroke="#808080" stroke-width="1"/>
<text x="42.7" y="497.4" font-size="10" class="tk" text-anchor="end">350</text>
<line x1="49.9" y1="470.7" x2="53.5" y2="470.7" stroke="#808080" stroke-width="1"/>
<text x="42.7" y="474.1" font-size="10" class="tk" text-anchor="end">400</text>
<line x1="53.5" y1="657.1" x2="53.5" y2="660.5" stroke="#808080" stroke-width="1"/>
<line x1="116.88" y1="657.1" x2="116.88" y2="660.5" stroke="#808080" stroke-width="1"/>
<line x1="180.27" y1="657.1" x2="180.27" y2="660.5" stroke="#808080" stroke-width="1"/>
<line x1="243.65" y1="657.1" x2="243.65" y2="660.5" stroke="#808080" stroke-width="1"/>
<line x1="307.03" y1="657.1" x2="307.03" y2="660.5" stroke="#808080" stroke-width="1"/>
<line x1="370.42" y1="657.1" x2="370.42" y2="660.5" stroke="#808080" stroke-width="1"/>
<line x1="433.8" y1="657.1" x2="433.8" y2="660.5" stroke="#808080" stroke-width="1"/>
<g>
<rect x="66.25" y="549.2" width="12.58" height="107.9" fill="url(#pc)"/>
<rect x="78.83" y="549.8" width="12.58" height="107.3" fill="url(#p6b)"/>
<rect x="91.41" y="545.2" width="12.58" height="111.9" fill="url(#p60c)"/>
<rect x="103.99" y="550.6" width="12.58" height="106.5" fill="url(#p600)"/>
</g>
<rect x="66.25" y="549.2" width="12.58" height="107.9" fill="none" stroke="#000" stroke-width="1.6"/>
<rect x="78.83" y="549.8" width="12.58" height="107.3" fill="none" stroke="#000" stroke-width="1.6"/>
<rect x="91.41" y="545.2" width="12.58" height="111.9" fill="none" stroke="#000" stroke-width="1.6"/>
<rect x="103.99" y="550.6" width="12.58" height="106.5" fill="none" stroke="#000" stroke-width="1.6"/>
<line x1="72.54" y1="548.1" x2="72.54" y2="537.3" stroke="#8f8f8f" stroke-width="1"/>
<line x1="69.94" y1="537.3" x2="75.14" y2="537.3" stroke="#333" stroke-width="1.1"/>
<text transform="translate(76.32,531.5) rotate(-90)" font-size="10.2" class="lb">ab</text>
<line x1="85.12" y1="548.7" x2="85.12" y2="543.7" stroke="#8f8f8f" stroke-width="1"/>
<line x1="82.52" y1="543.7" x2="87.72" y2="543.7" stroke="#333" stroke-width="1.1"/>
<text transform="translate(87.32,539) rotate(-90)" font-size="10.2" class="lb">ab</text>
<line x1="97.7" y1="544.1" x2="97.7" y2="536.2" stroke="#dcdcdc" stroke-width="1"/>
<line x1="95.1" y1="536.2" x2="100.3" y2="536.2" stroke="#333" stroke-width="1.1"/>
<text transform="translate(101.72,531) rotate(-90)" font-size="10.2" class="lb">abc</text>
<line x1="110.28" y1="549.5" x2="110.28" y2="541.3" stroke="#8f8f8f" stroke-width="1"/>
<line x1="107.68" y1="541.3" x2="112.88" y2="541.3" stroke="#333" stroke-width="1.1"/>
<text transform="translate(114,536.7) rotate(-90)" font-size="10.2" class="lb">a</text>
<g>
<rect x="129.63" y="538.5" width="12.58" height="118.6" fill="url(#pc)"/>
<rect x="142.21" y="542.65" width="12.58" height="114.45" fill="url(#p6b)"/>
<rect x="154.79" y="536.65" width="12.58" height="120.45" fill="url(#p60c)"/>
<rect x="167.37" y="514.4" width="12.58" height="142.7" fill="url(#p600)"/>
</g>
<rect x="129.63" y="538.5" width="12.58" height="118.6" fill="none" stroke="#000" stroke-width="1.6"/>
<rect x="142.21" y="542.65" width="12.58" height="114.45" fill="none" stroke="#000" stroke-width="1.6"/>
<rect x="154.79" y="536.65" width="12.58" height="120.45" fill="none" stroke="#000" stroke-width="1.6"/>
<rect x="167.37" y="514.4" width="12.58" height="142.7" fill="none" stroke="#000" stroke-width="1.6"/>
<line x1="135.92" y1="537.4" x2="135.92" y2="525" stroke="#8f8f8f" stroke-width="1"/>
<line x1="133.32" y1="525" x2="138.52" y2="525" stroke="#333" stroke-width="1.1"/>
<text transform="translate(139.22,518.75) rotate(-90)" font-size="10.2" class="lb">abcdef</text>
<line x1="148.5" y1="541.55" x2="148.5" y2="532.1" stroke="#8f8f8f" stroke-width="1"/>
<line x1="145.9" y1="532.1" x2="151.1" y2="532.1" stroke="#333" stroke-width="1.1"/>
<text transform="translate(151.72,525.6) rotate(-90)" font-size="10.2" class="lb">abcde</text>
<line x1="161.08" y1="535.55" x2="161.08" y2="533.75" stroke="#8f8f8f" stroke-width="1"/>
<text transform="translate(164.5,529.75) rotate(-90)" font-size="10.2" class="lb">abcdefg</text>
<line x1="173.66" y1="513.3" x2="173.66" y2="503.1" stroke="#8f8f8f" stroke-width="1"/>
<line x1="171.06" y1="503.1" x2="176.26" y2="503.1" stroke="#333" stroke-width="1.1"/>
<text transform="translate(177.42,499.4) rotate(-90)" font-size="10.2" class="lb">hi</text>
<g>
<rect x="193.02" y="538.9" width="12.58" height="118.2" fill="url(#pc)"/>
<rect x="205.6" y="543.5" width="12.58" height="113.6" fill="url(#p6b)"/>
<rect x="218.18" y="523.9" width="12.58" height="133.2" fill="url(#p60c)"/>
<rect x="230.76" y="509.8" width="12.58" height="147.3" fill="url(#p600)"/>
</g>
<rect x="193.02" y="538.9" width="12.58" height="118.2" fill="none" stroke="#000" stroke-width="1.6"/>
<rect x="205.6" y="543.5" width="12.58" height="113.6" fill="none" stroke="#000" stroke-width="1.6"/>
<rect x="218.18" y="523.9" width="12.58" height="133.2" fill="none" stroke="#000" stroke-width="1.6"/>
<rect x="230.76" y="509.8" width="12.58" height="147.3" fill="none" stroke="#000" stroke-width="1.6"/>
<line x1="199.31" y1="537.8" x2="199.31" y2="526.6" stroke="#8f8f8f" stroke-width="1"/>
<line x1="196.71" y1="526.6" x2="201.91" y2="526.6" stroke="#333" stroke-width="1.1"/>
<text transform="translate(203.02,518.1) rotate(-90)" font-size="10.2" class="lb">abcdef</text>
<line x1="211.89" y1="542.4" x2="211.89" y2="536.25" stroke="#dcdcdc" stroke-width="1"/>
<line x1="209.29" y1="536.25" x2="214.49" y2="536.25" stroke="#333" stroke-width="1.1"/>
<text transform="translate(215.52,530.6) rotate(-90)" font-size="10.2" class="lb">abcde</text>
<line x1="224.47" y1="522.8" x2="224.47" y2="520" stroke="#8f8f8f" stroke-width="1"/>
<line x1="221.87" y1="520" x2="227.07" y2="520" stroke="#333" stroke-width="1.1"/>
<text transform="translate(227,513.75) rotate(-90)" font-size="10.2" class="lb">efghi</text>
<line x1="237.05" y1="508.7" x2="237.05" y2="498.75" stroke="#8f8f8f" stroke-width="1"/>
<line x1="234.45" y1="498.75" x2="239.65" y2="498.75" stroke="#333" stroke-width="1.1"/>
<text transform="translate(240.57,495) rotate(-90)" font-size="10.2" class="lb">i</text>
<g>
<rect x="256.4" y="539.15" width="12.58" height="117.95" fill="url(#pc)"/>
<rect x="268.98" y="547.9" width="12.58" height="109.2" fill="url(#p6b)"/>
<rect x="281.56" y="516.65" width="12.58" height="140.45" fill="url(#p60c)"/>
<rect x="294.14" y="524.4" width="12.58" height="132.7" fill="url(#p600)"/>
</g>
<rect x="256.4" y="539.15" width="12.58" height="117.95" fill="none" stroke="#000" stroke-width="1.6"/>
<rect x="268.98" y="547.9" width="12.58" height="109.2" fill="none" stroke="#000" stroke-width="1.6"/>
<rect x="281.56" y="516.65" width="12.58" height="140.45" fill="none" stroke="#000" stroke-width="1.6"/>
<rect x="294.14" y="524.4" width="12.58" height="132.7" fill="none" stroke="#000" stroke-width="1.6"/>
<line x1="262.69" y1="538.05" x2="262.69" y2="532.1" stroke="#8f8f8f" stroke-width="1"/>
<line x1="260.09" y1="532.1" x2="265.29" y2="532.1" stroke="#333" stroke-width="1.1"/>
<text transform="translate(265.1,528.75) rotate(-90)" font-size="10.2" class="lb">abcdefgh</text>
<line x1="275.27" y1="546.8" x2="275.27" y2="537.9" stroke="#8f8f8f" stroke-width="1"/>
<line x1="272.67" y1="537.9" x2="277.87" y2="537.9" stroke="#333" stroke-width="1.1"/>
<text transform="translate(279.22,531.9) rotate(-90)" font-size="10.2" class="lb">ab</text>
<line x1="287.85" y1="515.55" x2="287.85" y2="510" stroke="#8f8f8f" stroke-width="1"/>
<line x1="285.25" y1="510" x2="290.45" y2="510" stroke="#333" stroke-width="1.1"/>
<text transform="translate(291.35,503.75) rotate(-90)" font-size="10.2" class="lb">ghi</text>
<line x1="300.43" y1="523.3" x2="300.43" y2="518.1" stroke="#8f8f8f" stroke-width="1"/>
<line x1="297.83" y1="518.1" x2="303.03" y2="518.1" stroke="#333" stroke-width="1.1"/>
<text transform="translate(303.85,512.5) rotate(-90)" font-size="10.2" class="lb">defghi</text>
<g>
<rect x="319.78" y="541.65" width="12.58" height="115.45" fill="url(#pc)"/>
<rect x="332.36" y="543.9" width="12.58" height="113.2" fill="url(#p6b)"/>
<rect x="344.94" y="515.65" width="12.58" height="141.45" fill="url(#p60c)"/>
<rect x="357.52" y="525" width="12.58" height="132.1" fill="url(#p600)"/>
</g>
<rect x="319.78" y="541.65" width="12.58" height="115.45" fill="none" stroke="#000" stroke-width="1.6"/>
<rect x="332.36" y="543.9" width="12.58" height="113.2" fill="none" stroke="#000" stroke-width="1.6"/>
<rect x="344.94" y="515.65" width="12.58" height="141.45" fill="none" stroke="#000" stroke-width="1.6"/>
<rect x="357.52" y="525" width="12.58" height="132.1" fill="none" stroke="#000" stroke-width="1.6"/>
<line x1="326.07" y1="540.55" x2="326.07" y2="531.5" stroke="#8f8f8f" stroke-width="1"/>
<line x1="323.47" y1="531.5" x2="328.67" y2="531.5" stroke="#333" stroke-width="1.1"/>
<text transform="translate(328.62,525) rotate(-90)" font-size="10.2" class="lb">abcdef</text>
<line x1="338.65" y1="542.8" x2="338.65" y2="533.75" stroke="#8f8f8f" stroke-width="1"/>
<line x1="336.05" y1="533.75" x2="341.25" y2="533.75" stroke="#333" stroke-width="1.1"/>
<text transform="translate(342.37,528.1) rotate(-90)" font-size="10.2" class="lb">abcde</text>
<line x1="351.23" y1="514.55" x2="351.23" y2="505.25" stroke="#8f8f8f" stroke-width="1"/>
<line x1="348.63" y1="505.25" x2="353.83" y2="505.25" stroke="#333" stroke-width="1.1"/>
<text transform="translate(354.27,500.6) rotate(-90)" font-size="10.2" class="lb">hi</text>
<line x1="363.81" y1="523.9" x2="363.81" y2="518.75" stroke="#8f8f8f" stroke-width="1"/>
<line x1="361.21" y1="518.75" x2="366.41" y2="518.75" stroke="#333" stroke-width="1.1"/>
<text transform="translate(365.7,513.75) rotate(-90)" font-size="10.2" class="lb">cdefghi</text>
<g>
<rect x="383.17" y="545.15" width="12.58" height="111.95" fill="url(#pc)"/>
<rect x="395.75" y="545.15" width="12.58" height="111.95" fill="url(#p6b)"/>
<rect x="408.33" y="521" width="12.58" height="136.1" fill="url(#p60c)"/>
<rect x="420.91" y="528.9" width="12.58" height="128.2" fill="url(#p600)"/>
</g>
<rect x="383.17" y="545.15" width="12.58" height="111.95" fill="none" stroke="#000" stroke-width="1.6"/>
<rect x="395.75" y="545.15" width="12.58" height="111.95" fill="none" stroke="#000" stroke-width="1.6"/>
<rect x="408.33" y="521" width="12.58" height="136.1" fill="none" stroke="#000" stroke-width="1.6"/>
<rect x="420.91" y="528.9" width="12.58" height="128.2" fill="none" stroke="#000" stroke-width="1.6"/>
<line x1="389.46" y1="544.05" x2="389.46" y2="535.25" stroke="#8f8f8f" stroke-width="1"/>
<line x1="386.86" y1="535.25" x2="392.06" y2="535.25" stroke="#333" stroke-width="1.1"/>
<text transform="translate(393.02,530.6) rotate(-90)" font-size="10.2" class="lb">abc</text>
<line x1="402.04" y1="544.05" x2="402.04" y2="536.25" stroke="#dcdcdc" stroke-width="1"/>
<line x1="399.44" y1="536.25" x2="404.64" y2="536.25" stroke="#333" stroke-width="1.1"/>
<text transform="translate(405.52,531.9) rotate(-90)" font-size="10.2" class="lb">abcd</text>
<line x1="414.62" y1="519.9" x2="414.62" y2="513.75" stroke="#8f8f8f" stroke-width="1"/>
<line x1="412.02" y1="513.75" x2="417.22" y2="513.75" stroke="#333" stroke-width="1.1"/>
<text transform="translate(417,508.1) rotate(-90)" font-size="10.2" class="lb">fghi</text>
<line x1="427.2" y1="527.8" x2="427.2" y2="523.75" stroke="#8f8f8f" stroke-width="1"/>
<line x1="424.6" y1="523.75" x2="429.8" y2="523.75" stroke="#333" stroke-width="1.1"/>
<text transform="translate(430.7,520) rotate(-90)" font-size="10.2" class="lb">bcdefghi</text>
<line x1="53.5" y1="470.7" x2="53.5" y2="660.5" stroke="#808080" stroke-width="1"/>
<line x1="49.9" y1="657.1" x2="433.8" y2="657.1" stroke="#808080" stroke-width="1"/>
<text x="85.19" y="676.2" font-size="10" class="tk" text-anchor="middle" xml:space="preserve">Day -2</text>
<text x="148.57" y="676.2" font-size="10" class="tk" text-anchor="middle" xml:space="preserve">Day 2</text>
<text x="211.96" y="676.2" font-size="10" class="tk" text-anchor="middle" xml:space="preserve">Day  4</text>
<text x="275.34" y="676.2" font-size="10" class="tk" text-anchor="middle" xml:space="preserve">Day 6</text>
<text x="338.73" y="676.2" font-size="10" class="tk" text-anchor="middle" xml:space="preserve">Day 8</text>
<text x="402.11" y="676.2" font-size="10" class="tk" text-anchor="middle" xml:space="preserve">Day 10</text>
<text x="218" y="699.6" font-size="11" font-weight="bold" class="tt" textLength="69.3" lengthAdjust="spacingAndGlyphs">Assayed days</text>
<text transform="translate(12.9,623.1) rotate(-90)" font-size="11.2" font-weight="bold" class="tt" textLength="102.3" lengthAdjust="spacingAndGlyphs">Lysozyme (Unit/ml)</text>
<rect x="451.25" y="475.35" width="6.1" height="6.1" fill="url(#pc)" stroke="#000" stroke-width="1.5"/>
<text x="459.4" y="481.9" font-size="10.3" class="tk" textLength="33" lengthAdjust="spacingAndGlyphs">control</text>
<rect x="451.25" y="487.45" width="6.1" height="6.1" fill="url(#p6b)" stroke="#000" stroke-width="1.5"/>
<text x="459.4" y="494" font-size="10.3" class="tk">Henna 6</text>
<rect x="451.25" y="500.15" width="6.1" height="6.1" fill="url(#p60c)" stroke="#000" stroke-width="1.5"/>
<text x="459.4" y="506.7" font-size="10.3" class="tk">Henna 60</text>
<rect x="451.25" y="512.25" width="6.1" height="6.1" fill="url(#p600)" stroke="#000" stroke-width="1.5"/>
<text x="459.4" y="518.8" font-size="10.3" class="tk">Henna 600</text>
<text x="0.6" y="723.1" font-size="17.5" font-weight="bold" class="tt" textLength="21.4" lengthAdjust="spacingAndGlyphs">(d)</text>
<line x1="41.4" y1="903.9" x2="45" y2="903.9" stroke="#808080" stroke-width="1"/>
<text x="34" y="907.3" font-size="10" class="tk" text-anchor="end">0</text>
<line x1="41.4" y1="872.88" x2="45" y2="872.88" stroke="#808080" stroke-width="1"/>
<text x="34" y="876.28" font-size="10" class="tk" text-anchor="end">1</text>
<line x1="41.4" y1="841.87" x2="45" y2="841.87" stroke="#808080" stroke-width="1"/>
<text x="34" y="845.27" font-size="10" class="tk" text-anchor="end">2</text>
<line x1="41.4" y1="810.85" x2="45" y2="810.85" stroke="#808080" stroke-width="1"/>
<text x="34" y="814.25" font-size="10" class="tk" text-anchor="end">3</text>
<line x1="41.4" y1="779.83" x2="45" y2="779.83" stroke="#808080" stroke-width="1"/>
<text x="34" y="783.23" font-size="10" class="tk" text-anchor="end">4</text>
<line x1="41.4" y1="748.82" x2="45" y2="748.82" stroke="#808080" stroke-width="1"/>
<text x="34" y="752.22" font-size="10" class="tk" text-anchor="end">5</text>
<line x1="41.4" y1="717.8" x2="45" y2="717.8" stroke="#808080" stroke-width="1"/>
<text x="34" y="721.2" font-size="10" class="tk" text-anchor="end">6</text>
<line x1="45" y1="903.9" x2="45" y2="907.3" stroke="#808080" stroke-width="1"/>
<line x1="112.42" y1="903.9" x2="112.42" y2="907.3" stroke="#808080" stroke-width="1"/>
<line x1="179.83" y1="903.9" x2="179.83" y2="907.3" stroke="#808080" stroke-width="1"/>
<line x1="247.25" y1="903.9" x2="247.25" y2="907.3" stroke="#808080" stroke-width="1"/>
<line x1="314.67" y1="903.9" x2="314.67" y2="907.3" stroke="#808080" stroke-width="1"/>
<line x1="382.08" y1="903.9" x2="382.08" y2="907.3" stroke="#808080" stroke-width="1"/>
<line x1="449.5" y1="903.9" x2="449.5" y2="907.3" stroke="#808080" stroke-width="1"/>
<g>
<rect x="58.55" y="816.1" width="13.38" height="87.8" fill="url(#pc)"/>
<rect x="71.93" y="815.2" width="13.38" height="88.7" fill="url(#p6b)"/>
<rect x="85.31" y="814.4" width="13.38" height="89.5" fill="url(#p60c)"/>
<rect x="98.69" y="817.2" width="13.38" height="86.7" fill="url(#p600)"/>
</g>
<rect x="58.55" y="816.1" width="13.38" height="87.8" fill="none" stroke="#000" stroke-width="1.6"/>
<rect x="71.93" y="815.2" width="13.38" height="88.7" fill="none" stroke="#000" stroke-width="1.6"/>
<rect x="85.31" y="814.4" width="13.38" height="89.5" fill="none" stroke="#000" stroke-width="1.6"/>
<rect x="98.69" y="817.2" width="13.38" height="86.7" fill="none" stroke="#000" stroke-width="1.6"/>
<line x1="65.24" y1="815" x2="65.24" y2="812" stroke="#8f8f8f" stroke-width="1"/>
<line x1="62.64" y1="812" x2="67.84" y2="812" stroke="#333" stroke-width="1.1"/>
<text transform="translate(69.32,807.4) rotate(-90)" font-size="10.2" class="lb">ab</text>
<line x1="78.62" y1="814.1" x2="78.62" y2="811.2" stroke="#8f8f8f" stroke-width="1"/>
<line x1="76.02" y1="811.2" x2="81.22" y2="811.2" stroke="#333" stroke-width="1.1"/>
<text transform="translate(81.9,806.6) rotate(-90)" font-size="10.2" class="lb">a</text>
<line x1="92" y1="813.3" x2="92" y2="807.4" stroke="#8f8f8f" stroke-width="1"/>
<line x1="89.4" y1="807.4" x2="94.6" y2="807.4" stroke="#333" stroke-width="1.1"/>
<text transform="translate(96.22,801.6) rotate(-90)" font-size="10.2" class="lb">ab</text>
<line x1="105.38" y1="816.1" x2="105.38" y2="814.5" stroke="#dcdcdc" stroke-width="1"/>
<line x1="102.78" y1="814.5" x2="107.98" y2="814.5" stroke="#333" stroke-width="1.1"/>
<text transform="translate(108.9,809.9) rotate(-90)" font-size="10.2" class="lb">a</text>
<g>
<rect x="125.97" y="817.6" width="13.38" height="86.3" fill="url(#pc)"/>
<rect x="139.35" y="811.8" width="13.38" height="92.1" fill="url(#p6b)"/>
<rect x="152.73" y="809.1" width="13.38" height="94.8" fill="url(#p60c)"/>
<rect x="166.11" y="805.7" width="13.38" height="98.2" fill="url(#p600)"/>
</g>
<rect x="125.97" y="817.6" width="13.38" height="86.3" fill="none" stroke="#000" stroke-width="1.6"/>
<rect x="139.35" y="811.8" width="13.38" height="92.1" fill="none" stroke="#000" stroke-width="1.6"/>
<rect x="152.73" y="809.1" width="13.38" height="94.8" fill="none" stroke="#000" stroke-width="1.6"/>
<rect x="166.11" y="805.7" width="13.38" height="98.2" fill="none" stroke="#000" stroke-width="1.6"/>
<line x1="132.66" y1="816.5" x2="132.66" y2="813.3" stroke="#8f8f8f" stroke-width="1"/>
<line x1="130.06" y1="813.3" x2="135.26" y2="813.3" stroke="#333" stroke-width="1.1"/>
<text transform="translate(136.5,809.7) rotate(-90)" font-size="10.2" class="lb">a</text>
<line x1="146.04" y1="810.7" x2="146.04" y2="806.1" stroke="#8f8f8f" stroke-width="1"/>
<line x1="143.44" y1="806.1" x2="148.64" y2="806.1" stroke="#333" stroke-width="1.1"/>
<text transform="translate(150.42,801) rotate(-90)" font-size="10.2" class="lb">abc</text>
<line x1="159.42" y1="808" x2="159.42" y2="802" stroke="#dcdcdc" stroke-width="1"/>
<line x1="156.82" y1="802" x2="162.02" y2="802" stroke="#333" stroke-width="1.1"/>
<text transform="translate(163.42,798.1) rotate(-90)" font-size="10.2" class="lb">abc</text>
<line x1="172.8" y1="804.6" x2="172.8" y2="800.3" stroke="#8f8f8f" stroke-width="1"/>
<line x1="170.2" y1="800.3" x2="175.4" y2="800.3" stroke="#333" stroke-width="1.1"/>
<text transform="translate(177.12,797.4) rotate(-90)" font-size="10.2" class="lb">bcd</text>
<g>
<rect x="193.38" y="813.4" width="13.38" height="90.5" fill="url(#pc)"/>
<rect x="206.76" y="812.7" width="13.38" height="91.2" fill="url(#p6b)"/>
<rect x="220.14" y="807.6" width="13.38" height="96.3" fill="url(#p60c)"/>
<rect x="233.52" y="805.7" width="13.38" height="98.2" fill="url(#p600)"/>
</g>
<rect x="193.38" y="813.4" width="13.38" height="90.5" fill="none" stroke="#000" stroke-width="1.6"/>
<rect x="206.76" y="812.7" width="13.38" height="91.2" fill="none" stroke="#000" stroke-width="1.6"/>
<rect x="220.14" y="807.6" width="13.38" height="96.3" fill="none" stroke="#000" stroke-width="1.6"/>
<rect x="233.52" y="805.7" width="13.38" height="98.2" fill="none" stroke="#000" stroke-width="1.6"/>
<line x1="200.07" y1="812.3" x2="200.07" y2="808.9" stroke="#8f8f8f" stroke-width="1"/>
<line x1="197.47" y1="808.9" x2="202.67" y2="808.9" stroke="#333" stroke-width="1.1"/>
<text transform="translate(204.42,805.3) rotate(-90)" font-size="10.2" class="lb">abc</text>
<line x1="213.45" y1="811.6" x2="213.45" y2="806.8" stroke="#8f8f8f" stroke-width="1"/>
<line x1="210.85" y1="806.8" x2="216.05" y2="806.8" stroke="#333" stroke-width="1.1"/>
<text transform="translate(217.72,799.6) rotate(-90)" font-size="10.2" class="lb">abc</text>
<text transform="translate(230.62,793.8) rotate(-90)" font-size="10.2" class="lb">cde</text>
<line x1="240.21" y1="804.6" x2="240.21" y2="797.1" stroke="#8f8f8f" stroke-width="1"/>
<line x1="237.61" y1="797.1" x2="242.81" y2="797.1" stroke="#333" stroke-width="1.1"/>
<text transform="translate(244.32,790.2) rotate(-90)" font-size="10.2" class="lb">cde</text>
<g>
<rect x="260.8" y="811.6" width="13.38" height="92.3" fill="url(#pc)"/>
<rect x="274.18" y="810.6" width="13.38" height="93.3" fill="url(#p6b)"/>
<rect x="287.56" y="796.7" width="13.38" height="107.2" fill="url(#p60c)"/>
<rect x="300.94" y="792.1" width="13.38" height="111.8" fill="url(#p600)"/>
</g>
<rect x="260.8" y="811.6" width="13.38" height="92.3" fill="none" stroke="#000" stroke-width="1.6"/>
<rect x="274.18" y="810.6" width="13.38" height="93.3" fill="none" stroke="#000" stroke-width="1.6"/>
<rect x="287.56" y="796.7" width="13.38" height="107.2" fill="none" stroke="#000" stroke-width="1.6"/>
<rect x="300.94" y="792.1" width="13.38" height="111.8" fill="none" stroke="#000" stroke-width="1.6"/>
<line x1="267.49" y1="810.5" x2="267.49" y2="806.2" stroke="#8f8f8f" stroke-width="1"/>
<line x1="264.89" y1="806.2" x2="270.09" y2="806.2" stroke="#333" stroke-width="1.1"/>
<text transform="translate(271.02,800.4) rotate(-90)" font-size="10.2" class="lb">abc</text>
<line x1="280.87" y1="809.5" x2="280.87" y2="804" stroke="#dcdcdc" stroke-width="1"/>
<line x1="278.27" y1="804" x2="283.47" y2="804" stroke="#333" stroke-width="1.1"/>
<text transform="translate(283.92,798.9) rotate(-90)" font-size="10.2" class="lb">abc</text>
<line x1="294.25" y1="795.6" x2="294.25" y2="793.5" stroke="#8f8f8f" stroke-width="1"/>
<line x1="291.65" y1="793.5" x2="296.85" y2="793.5" stroke="#333" stroke-width="1.1"/>
<text transform="translate(298.42,788.1) rotate(-90)" font-size="10.2" class="lb">de</text>
<line x1="307.63" y1="791" x2="307.63" y2="789.6" stroke="#dcdcdc" stroke-width="1"/>
<line x1="305.03" y1="789.6" x2="310.23" y2="789.6" stroke="#333" stroke-width="1.1"/>
<text transform="translate(310.4,783.8) rotate(-90)" font-size="10.2" class="lb">e</text>
<g>
<rect x="328.22" y="811.7" width="13.38" height="92.2" fill="url(#pc)"/>
<rect x="341.6" y="809.5" width="13.38" height="94.4" fill="url(#p6b)"/>
<rect x="354.98" y="780" width="13.38" height="123.9" fill="url(#p60c)"/>
<rect x="368.36" y="777.8" width="13.38" height="126.1" fill="url(#p600)"/>
</g>
<rect x="328.22" y="811.7" width="13.38" height="92.2" fill="none" stroke="#000" stroke-width="1.6"/>
<rect x="341.6" y="809.5" width="13.38" height="94.4" fill="none" stroke="#000" stroke-width="1.6"/>
<rect x="354.98" y="780" width="13.38" height="123.9" fill="none" stroke="#000" stroke-width="1.6"/>
<rect x="368.36" y="777.8" width="13.38" height="126.1" fill="none" stroke="#000" stroke-width="1.6"/>
<line x1="334.91" y1="810.6" x2="334.91" y2="805.1" stroke="#8f8f8f" stroke-width="1"/>
<line x1="332.31" y1="805.1" x2="337.51" y2="805.1" stroke="#333" stroke-width="1.1"/>
<text transform="translate(338.12,797.9) rotate(-90)" font-size="10.2" class="lb">abc</text>
<line x1="348.29" y1="808.4" x2="348.29" y2="804.8" stroke="#8f8f8f" stroke-width="1"/>
<line x1="345.69" y1="804.8" x2="350.89" y2="804.8" stroke="#333" stroke-width="1.1"/>
<text transform="translate(352.12,799) rotate(-90)" font-size="10.2" class="lb">abc</text>
<line x1="361.67" y1="778.9" x2="361.67" y2="773.4" stroke="#8f8f8f" stroke-width="1"/>
<line x1="359.07" y1="773.4" x2="364.27" y2="773.4" stroke="#333" stroke-width="1.1"/>
<text transform="translate(365.07,768.8) rotate(-90)" font-size="10.2" class="lb">f</text>
<line x1="375.05" y1="776.7" x2="375.05" y2="771.6" stroke="#8f8f8f" stroke-width="1"/>
<text transform="translate(378.2,766.6) rotate(-90)" font-size="10.2" class="lb">fg</text>
<g>
<rect x="395.63" y="815.5" width="13.38" height="88.4" fill="url(#pc)"/>
<rect x="409.01" y="812.6" width="13.38" height="91.3" fill="url(#p6b)"/>
<rect x="422.39" y="764.7" width="13.38" height="139.2" fill="url(#p60c)"/>
<rect x="435.77" y="779.7" width="13.38" height="124.2" fill="url(#p600)"/>
</g>
<rect x="395.63" y="815.5" width="13.38" height="88.4" fill="none" stroke="#000" stroke-width="1.6"/>
<rect x="409.01" y="812.6" width="13.38" height="91.3" fill="none" stroke="#000" stroke-width="1.6"/>
<rect x="422.39" y="764.7" width="13.38" height="139.2" fill="none" stroke="#000" stroke-width="1.6"/>
<rect x="435.77" y="779.7" width="13.38" height="124.2" fill="none" stroke="#000" stroke-width="1.6"/>
<line x1="402.32" y1="814.4" x2="402.32" y2="812.2" stroke="#8f8f8f" stroke-width="1"/>
<line x1="399.72" y1="812.2" x2="404.92" y2="812.2" stroke="#333" stroke-width="1.1"/>
<text transform="translate(406.62,805) rotate(-90)" font-size="10.2" class="lb">ab</text>
<line x1="415.7" y1="811.5" x2="415.7" y2="805.7" stroke="#8f8f8f" stroke-width="1"/>
<line x1="413.1" y1="805.7" x2="418.3" y2="805.7" stroke="#333" stroke-width="1.1"/>
<text transform="translate(419.62,800.7) rotate(-90)" font-size="10.2" class="lb">abc</text>
<line x1="429.08" y1="763.6" x2="429.08" y2="755.2" stroke="#dcdcdc" stroke-width="1"/>
<line x1="426.48" y1="755.2" x2="431.68" y2="755.2" stroke="#333" stroke-width="1.1"/>
<text transform="translate(432.08,749.5) rotate(-90)" font-size="10.2" class="lb">g</text>
<line x1="442.46" y1="778.6" x2="442.46" y2="773.3" stroke="#8f8f8f" stroke-width="1"/>
<line x1="439.86" y1="773.3" x2="445.06" y2="773.3" stroke="#333" stroke-width="1.1"/>
<text transform="translate(446.37,767.8) rotate(-90)" font-size="10.2" class="lb">f</text>
<line x1="45" y1="717.8" x2="45" y2="907.3" stroke="#808080" stroke-width="1"/>
<line x1="41.4" y1="903.9" x2="449.5" y2="903.9" stroke="#808080" stroke-width="1"/>
<text x="78.71" y="922.3" font-size="10" class="tk" text-anchor="middle" xml:space="preserve">Day -2</text>
<text x="146.12" y="922.3" font-size="10" class="tk" text-anchor="middle" xml:space="preserve">Day 2</text>
<text x="213.54" y="922.3" font-size="10" class="tk" text-anchor="middle" xml:space="preserve">Day  4</text>
<text x="280.96" y="922.3" font-size="10" class="tk" text-anchor="middle" xml:space="preserve">Day 6</text>
<text x="348.38" y="922.3" font-size="10" class="tk" text-anchor="middle" xml:space="preserve">Day 8</text>
<text x="415.79" y="922.3" font-size="10" class="tk" text-anchor="middle" xml:space="preserve">Day 10</text>
<text x="219.2" y="941.8" font-size="11" font-weight="bold" class="tt" textLength="67.3" lengthAdjust="spacingAndGlyphs">assayed days</text>
<text transform="translate(21,897.3) rotate(-90)" font-size="11.7" font-weight="bold" class="tt" textLength="135.8" lengthAdjust="spacingAndGlyphs">Serum total protein (g/dl)</text>
<rect x="460.05" y="720.55" width="6.1" height="6.1" fill="url(#pc)" stroke="#000" stroke-width="1.5"/>
<text x="468.9" y="727.1" font-size="10.5" class="tk" textLength="33" lengthAdjust="spacingAndGlyphs">control</text>
<rect x="460.05" y="734.85" width="6.1" height="6.1" fill="url(#p6b)" stroke="#000" stroke-width="1.5"/>
<text x="468.9" y="741.4" font-size="10.5" class="tk">Henna 6</text>
<rect x="460.05" y="749.15" width="6.1" height="6.1" fill="url(#p60c)" stroke="#000" stroke-width="1.5"/>
<text x="468.9" y="755.7" font-size="10.5" class="tk">Henna 60</text>
<rect x="460.05" y="763.65" width="6.1" height="6.1" fill="url(#p600)" stroke="#000" stroke-width="1.5"/>
<text x="468.9" y="770.2" font-size="10.5" class="tk">Henna 600</text>
</svg></body></html>
